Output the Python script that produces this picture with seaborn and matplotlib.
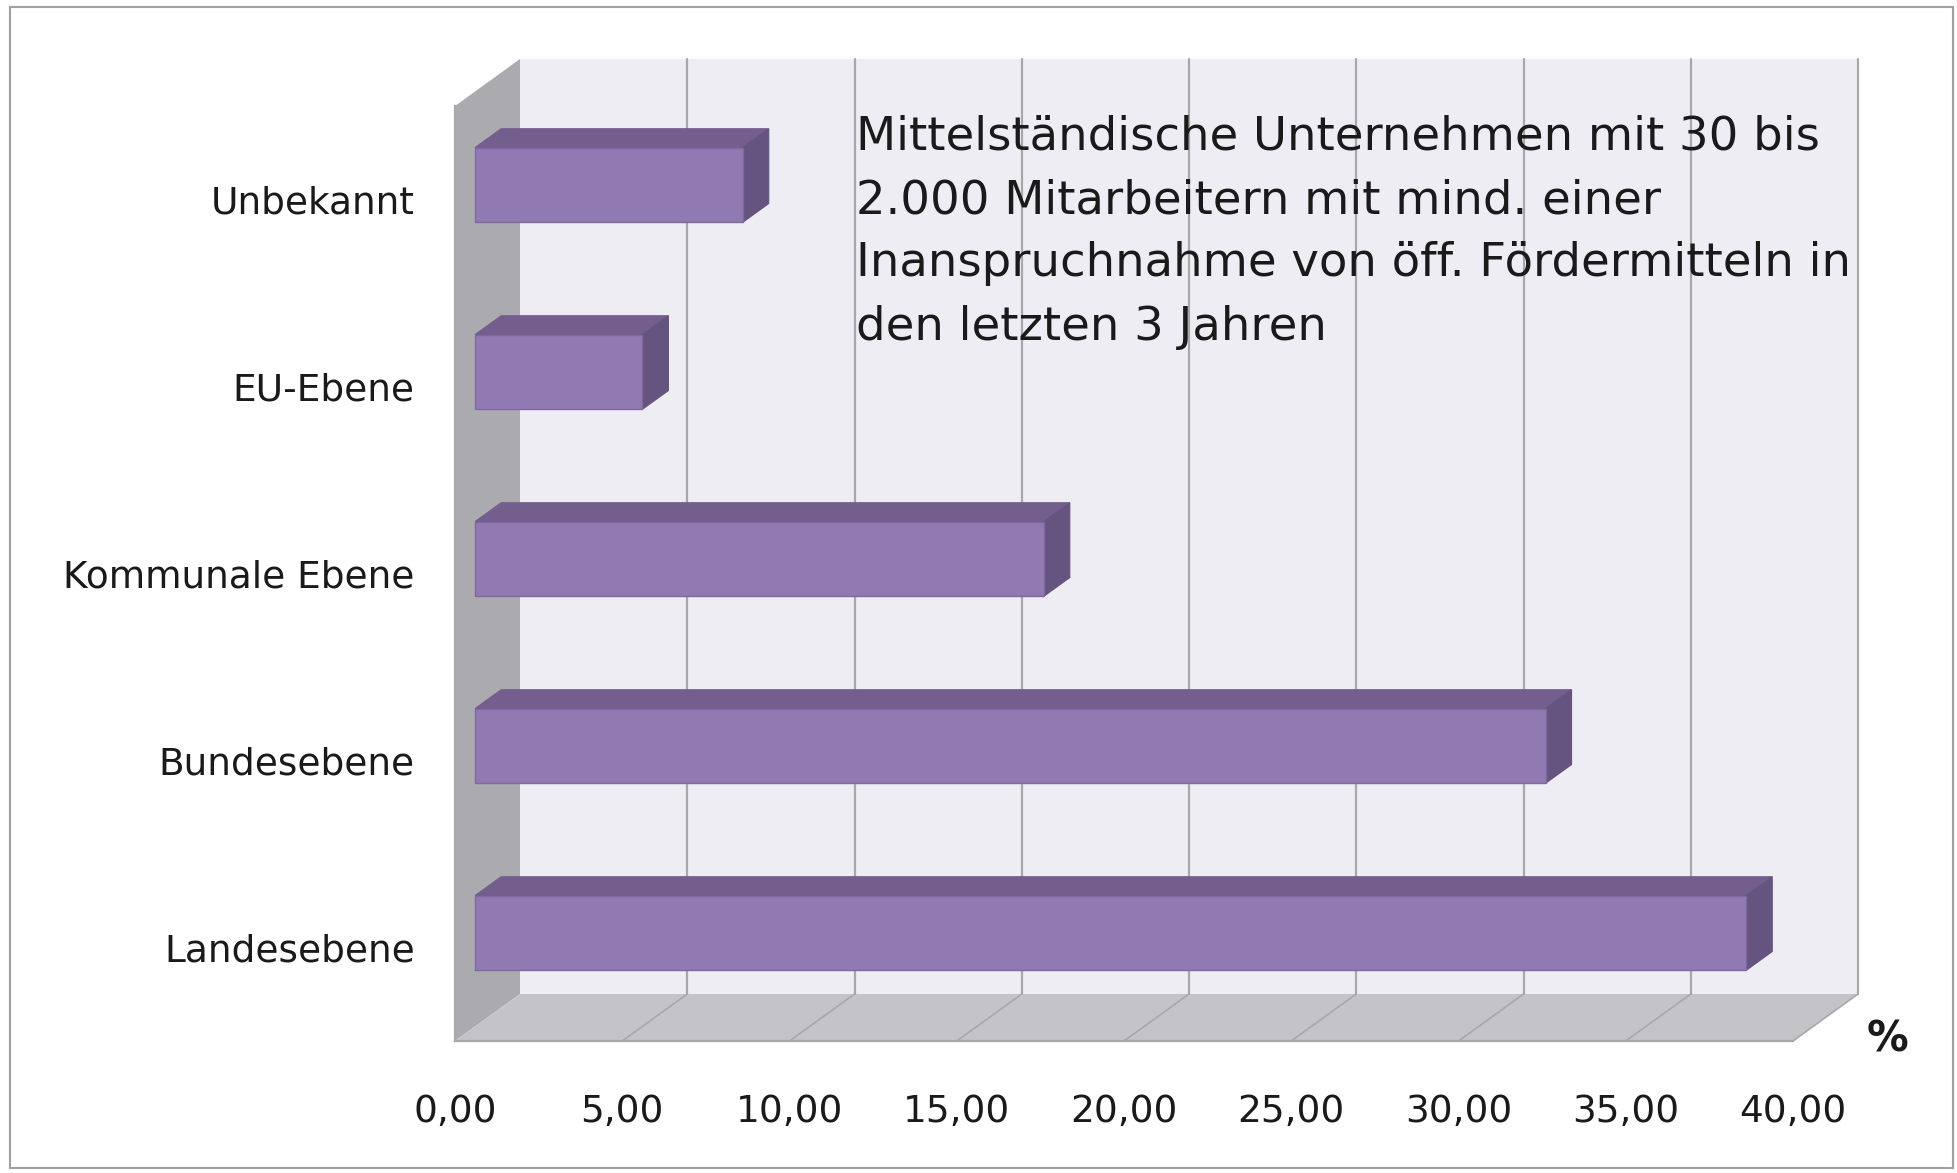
import numpy as np
import pandas as pd
import seaborn as sns
import matplotlib
matplotlib.use('Agg')
import matplotlib.pyplot as plt
from matplotlib.patches import Polygon, Rectangle
from matplotlib.transforms import offset_copy

kategorien = ['Unbekannt', 'EU-Ebene', 'Kommunale Ebene', 'Bundesebene', 'Landesebene']
anteile = [8.0, 5.0, 17.0, 32.0, 38.0]
x_ticks = [0, 5, 10, 15, 20, 25, 30, 35, 40]
x_labels = ['0,00', '5,00', '10,00', '15,00', '20,00', '25,00', '30,00', '35,00', '40,00']
hinweis = ('Mittelständische Unternehmen mit 30 bis\n'
           '2.000 Mitarbeitern mit mind. einer\n'
           'Inanspruchnahme von öff. Fördermitteln in\n'
           'den letzten 3 Jahren')

sns.set_style('white')
plt.rcParams['font.family'] = ['DejaVu Sans']

# farben
c_front = '#9179b2'
c_top = '#735e8e'
c_side = '#64547f'
c_back = '#efedf4'
c_left = '#abaaae'
c_floor = '#c4c3c8'
c_grid = '#a8a8ab'

W, H = 1957, 1173
fig = plt.figure(figsize=(W / 100, H / 100), dpi=100)
fig.patch.set_facecolor('white')

# vordere Ebene in Pixeln
x0, x1 = 455, 1793
ytop, ybot = 106, 1041
ax = fig.add_axes([x0 / W, 1 - ybot / H, (x1 - x0) / W, (ybot - ytop) / H])
ax.patch.set_visible(False)

df = pd.DataFrame({'Kategorie': kategorien, 'Anteil': anteile})
sns.barplot(data=df, x='Anteil', y='Kategorie', orient='h', width=0.4,
            color=c_front, saturation=1, ax=ax, zorder=3)
ax.set_xlim(0, 40)
ax.set_ylim(len(kategorien) - 0.5, -0.5)

# Tiefe (schräge Projektion)
DX, DY = 65, 47
d0, d1 = 0.31, 0.71


def at(x, y, d):
    p = ax.transData.transform((x, y)) + d * np.array([DX, DY])
    return ax.transData.inverted().transform(p)


ylo, yhi = -0.5, len(kategorien) - 0.5
# Rückwand, linke Wand, Boden
ax.add_patch(Polygon([at(0, ylo, 1), at(40, ylo, 1), at(40, yhi, 1), at(0, yhi, 1)],
                     closed=True, fc=c_back, ec='none', zorder=0.5, clip_on=False))
ax.add_patch(Polygon([at(0, yhi, 0), at(0, ylo, 0), at(0, ylo, 1), at(0, yhi, 1)],
                     closed=True, fc=c_left, ec='none', zorder=0.6, clip_on=False))
ax.add_patch(Polygon([at(0, yhi, 0), at(40, yhi, 0), at(40, yhi, 1), at(0, yhi, 1)],
                     closed=True, fc=c_floor, ec='none', zorder=0.6, clip_on=False))
for v in x_ticks[1:]:
    a, b = at(v, yhi, 1), at(v, ylo, 1)
    ax.plot([a[0], b[0]], [a[1], b[1]], color=c_grid, lw=1.6, zorder=0.7, clip_on=False)
    a, b = at(v, yhi, 0), at(v, yhi, 1)
    ax.plot([a[0], b[0]], [a[1], b[1]], color=c_grid, lw=1.2, zorder=0.7, clip_on=False)

# Balken als Quader
front_tr = offset_copy(ax.transData, fig=fig, x=d0 * DX, y=d0 * DY, units='dots')
for p in list(ax.patches):
    if not isinstance(p, Rectangle) or p.get_width() <= 0:
        continue
    w, y, h = p.get_width(), p.get_y(), p.get_height()
    p.set_transform(front_tr)
    p.set_edgecolor('#7e68a0')
    p.set_linewidth(1.0)
    p.set_clip_on(False)
    ax.add_patch(Polygon([at(0, y, d0), at(w, y, d0), at(w, y, d1), at(0, y, d1)],
                         closed=True, fc=c_top, ec=c_top, lw=0.8, zorder=2.9, clip_on=False))
    ax.add_patch(Polygon([at(w, y, d0), at(w, y + h, d0), at(w, y + h, d1), at(w, y, d1)],
                         closed=True, fc=c_side, ec=c_side, lw=0.8, zorder=2.9, clip_on=False))

# Achsen
for s in ['top', 'right']:
    ax.spines[s].set_visible(False)
for s in ['left', 'bottom']:
    ax.spines[s].set_color(c_grid)
    ax.spines[s].set_linewidth(1.6)
ax.set_xticks(x_ticks)
ax.set_xticklabels(x_labels)
ax.tick_params(axis='x', direction='out', length=7, width=1.2, color=c_grid,
               pad=31, labelsize=27, labelcolor='#1a1a1a')
ax.set_yticks(range(len(kategorien)))
ax.set_yticklabels(kategorien)
ax.set_yticks(np.arange(-0.5, len(kategorien)), minor=True)
ax.tick_params(axis='y', which='major', length=0, pad=29, labelsize=27, labelcolor='#1a1a1a')
ax.tick_params(axis='y', which='minor', direction='out', length=7, width=1.2, color=c_grid)
ax.set_xlabel('')
ax.set_ylabel('')
ax.grid(False)

fig.text(1888 / W, 1 - 1040 / H, '%', fontsize=30, fontweight='bold', ha='center', va='center',
         color='#1a1a1a')
fig.text(856 / W, 1 - 115 / H, hinweis, fontsize=33.5, ha='left', va='top',
         linespacing=1.52, color='#1a1a1a')

# Rahmen
fig.patches.append(Rectangle((10 / W, 5 / H), (W - 14) / W, (H - 12) / H, transform=fig.transFigure,
                             fill=False, ec='#a0a0a0', lw=1.5))

fig.savefig('out.png', dpi=100, facecolor='white')
